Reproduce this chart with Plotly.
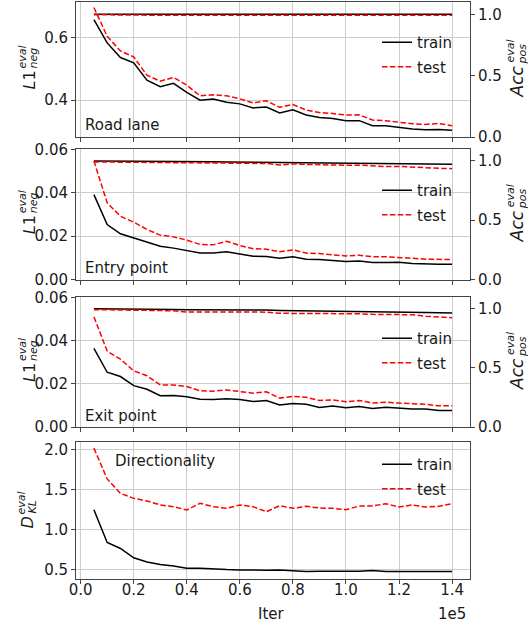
import plotly.graph_objects as go

# ---------------- data ----------------
iters = [5000, 10000, 15000, 20000, 25000, 30000, 35000, 40000, 45000, 50000,
         55000, 60000, 65000, 70000, 75000, 80000, 85000, 90000, 95000, 100000,
         105000, 110000, 115000, 120000, 125000, 130000, 135000, 140000]

road_l1_train = [0.659, 0.584, 0.537, 0.520, 0.464, 0.443, 0.454, 0.425, 0.400, 0.404,
                 0.393, 0.388, 0.375, 0.378, 0.359, 0.369, 0.352, 0.344, 0.341, 0.334,
                 0.334, 0.318, 0.318, 0.312, 0.307, 0.305, 0.306, 0.303]
road_l1_test = [0.698, 0.605, 0.558, 0.539, 0.480, 0.461, 0.473, 0.448, 0.414, 0.417,
                0.414, 0.404, 0.391, 0.398, 0.377, 0.386, 0.368, 0.360, 0.357, 0.352,
                0.353, 0.336, 0.334, 0.328, 0.324, 0.322, 0.325, 0.318]
road_acc_train = [1.000, 1.000, 1.000, 1.000, 1.000, 1.000, 1.000, 1.000, 1.000, 1.000,
                  1.000, 1.000, 1.000, 1.000, 1.000, 1.000, 1.000, 1.000, 1.000, 1.000,
                  1.000, 1.000, 1.000, 1.000, 1.000, 1.000, 1.000, 1.000]
road_acc_test = [0.996, 0.994, 0.993, 0.993, 0.993, 0.993, 0.993, 0.993, 0.993, 0.993,
                 0.993, 0.993, 0.993, 0.993, 0.993, 0.993, 0.993, 0.993, 0.993, 0.993,
                 0.993, 0.993, 0.993, 0.993, 0.993, 0.993, 0.993, 0.993]

entry_l1_train = [0.0392, 0.0254, 0.0211, 0.0191, 0.0172, 0.0154, 0.0145, 0.0134, 0.0122, 0.0122,
                  0.0128, 0.0118, 0.0108, 0.0106, 0.0098, 0.0105, 0.0094, 0.0092, 0.0086, 0.0083,
                  0.0085, 0.0078, 0.0078, 0.0080, 0.0074, 0.0071, 0.0071, 0.0071]
entry_l1_test = [0.0548, 0.0354, 0.0292, 0.0265, 0.0231, 0.0205, 0.0197, 0.0182, 0.0162, 0.0160,
                 0.0177, 0.0157, 0.0142, 0.0140, 0.0128, 0.0137, 0.0122, 0.0120, 0.0114, 0.0109,
                 0.0112, 0.0105, 0.0105, 0.0103, 0.0098, 0.0094, 0.0092, 0.0092]
entry_acc_train = [0.999, 0.999, 0.997, 0.998, 0.996, 0.996, 0.995, 0.994, 0.993, 0.993,
                   0.991, 0.990, 0.990, 0.989, 0.986, 0.988, 0.987, 0.985, 0.984, 0.983,
                   0.983, 0.980, 0.979, 0.978, 0.977, 0.976, 0.977, 0.971]
entry_acc_test = [0.991, 0.989, 0.988, 0.988, 0.986, 0.986, 0.985, 0.984, 0.983, 0.981,
                  0.980, 0.979, 0.980, 0.978, 0.966, 0.974, 0.970, 0.966, 0.963, 0.963,
                  0.964, 0.955, 0.952, 0.953, 0.950, 0.943, 0.937, 0.934]

exit_l1_train = [0.0365, 0.0254, 0.0234, 0.0192, 0.0175, 0.0145, 0.0146, 0.0140, 0.0129, 0.0128,
                 0.0131, 0.0128, 0.0118, 0.0123, 0.0102, 0.0109, 0.0105, 0.0091, 0.0097, 0.0089,
                 0.0095, 0.0086, 0.0092, 0.0088, 0.0083, 0.0083, 0.0077, 0.0077]
exit_l1_test = [0.0511, 0.0352, 0.0315, 0.0260, 0.0238, 0.0195, 0.0195, 0.0188, 0.0168, 0.0166,
                0.0172, 0.0166, 0.0157, 0.0163, 0.0134, 0.0142, 0.0138, 0.0123, 0.0126, 0.0117,
                0.0123, 0.0111, 0.0115, 0.0111, 0.0108, 0.0105, 0.0098, 0.0098]
exit_acc_train = [1.000, 1.000, 1.000, 0.999, 0.999, 0.997, 0.995, 0.993, 0.993, 0.993,
                  0.992, 0.992, 0.991, 0.990, 0.986, 0.985, 0.984, 0.983, 0.982, 0.979,
                  0.980, 0.977, 0.978, 0.974, 0.971, 0.969, 0.967, 0.964]
exit_acc_test = [0.993, 0.990, 0.988, 0.988, 0.987, 0.985, 0.984, 0.973, 0.972, 0.972,
                 0.972, 0.972, 0.973, 0.972, 0.962, 0.962, 0.961, 0.961, 0.961, 0.960,
                 0.958, 0.953, 0.953, 0.951, 0.950, 0.937, 0.932, 0.925]

dir_kl_train = [1.250, 0.839, 0.764, 0.647, 0.596, 0.563, 0.546, 0.517, 0.517, 0.504,
                0.500, 0.496, 0.492, 0.492, 0.496, 0.487, 0.475, 0.479, 0.479, 0.471,
                0.479, 0.487, 0.475, 0.475, 0.475, 0.475, 0.466, 0.475]
dir_kl_test = [2.021, 1.635, 1.455, 1.392, 1.359, 1.309, 1.288, 1.246, 1.330, 1.288,
               1.267, 1.309, 1.288, 1.225, 1.300, 1.267, 1.292, 1.271, 1.267, 1.250,
               1.296, 1.296, 1.325, 1.284, 1.309, 1.284, 1.292, 1.325]

panel_names = ["Road lane", "Entry point", "Exit point", "Directionality"]
x_tick_vals = [0, 20000, 40000, 60000, 80000, 100000, 120000, 140000]
x_tick_text = ["0.0", "0.2", "0.4", "0.6", "0.8", "1.0", "1.2", "1.4"]

# ---------------- geometry ----------------
W, H = 528, 624
ML, MR, MT, MB = 76, 58, 2, 45
PW = W - ML - MR
PH = H - MT - MB


def px_x(px):
    return (px - ML) / PW


def px_y(py):
    return (H - MB - py) / PH


panels_px = [(2, 137), (149, 279.5), (297, 427), (442, 579)]
domains = [[px_y(b), px_y(t)] for (t, b) in panels_px]

FONT = "DejaVu Sans, Verdana, sans-serif"
TXT = "#1a1a1a"
AX = "#444444"
GRID = "#cccccc"
RED_DASH = "5.5px,2.4px"

fig = go.Figure()

series = [
    (road_l1_train, road_l1_test, road_acc_train, road_acc_test),
    (entry_l1_train, entry_l1_test, entry_acc_train, entry_acc_test),
    (exit_l1_train, exit_l1_test, exit_acc_train, exit_acc_test),
]

legend_names = ["legend", "legend2", "legend3", "legend4"]

for i, (tr, te, atr, ate) in enumerate(series):
    xa = "x" if i == 0 else f"x{i + 1}"
    yl = "y" if i == 0 else f"y{2 * i + 1}"
    yr = f"y{2 * i + 2}"
    fig.add_trace(go.Scatter(x=iters, y=atr, xaxis=xa, yaxis=yr, mode="lines",
                             line=dict(color="black", width=1.5), showlegend=False))
    fig.add_trace(go.Scatter(x=iters, y=ate, xaxis=xa, yaxis=yr, mode="lines",
                             line=dict(color="red", width=1.5, dash=RED_DASH), showlegend=False))
    fig.add_trace(go.Scatter(x=iters, y=tr, xaxis=xa, yaxis=yl, mode="lines", name="train",
                             line=dict(color="black", width=1.5), legend=legend_names[i],
                             legendgroup=f"tr{i}"))
    fig.add_trace(go.Scatter(x=iters, y=te, xaxis=xa, yaxis=yl, mode="lines", name="test",
                             line=dict(color="red", width=1.5, dash=RED_DASH), legend=legend_names[i],
                             legendgroup=f"te{i}"))

fig.add_trace(go.Scatter(x=iters, y=dir_kl_train, xaxis="x4", yaxis="y7", mode="lines", name="train",
                         line=dict(color="black", width=1.5), legend="legend4", legendgroup="tr3"))
fig.add_trace(go.Scatter(x=iters, y=dir_kl_test, xaxis="x4", yaxis="y7", mode="lines", name="test",
                         line=dict(color="red", width=1.5, dash=RED_DASH), legend="legend4",
                         legendgroup="te3"))

tickfont = dict(family=FONT, size=15, color=TXT)
common_ax = dict(showline=True, linecolor=AX, linewidth=1, ticks="outside", ticklen=4,
                 tickcolor=AX, tickwidth=1, tickfont=tickfont, zeroline=False, automargin=False)

layout = dict(
    width=W, height=H,
    margin=dict(l=ML, r=MR, t=MT, b=MB, pad=0, autoexpand=False),
    paper_bgcolor="white", plot_bgcolor="white",
    font=dict(family=FONT, size=15, color=TXT),
)

x_range = [-1750, 146750]
x_anchor = ["y", "y3", "y5", "y7"]
for i in range(4):
    key = "xaxis" if i == 0 else f"xaxis{i + 1}"
    layout[key] = dict(common_ax, domain=[0, 1], anchor=x_anchor[i], range=x_range,
                       tickvals=x_tick_vals, ticktext=x_tick_text, showticklabels=(i == 3),
                       showgrid=True, gridcolor=GRID, gridwidth=1, mirror=True)
layout["xaxis4"]["ticklen"] = 4
layout["xaxis4"]["ticklabelstandoff"] = -7

left_ranges = [[0.2815, 0.7155], [0, 0.0603], [0, 0.0603], [0.382, 2.098]]
left_ticks = [[0.4, 0.6], [0, 0.02, 0.04, 0.06], [0, 0.02, 0.04, 0.06], [0.5, 1.0, 1.5, 2.0]]
left_fmt = [".1f", ".2f", ".2f", ".1f"]
left_keys = ["yaxis", "yaxis3", "yaxis5", "yaxis7"]
xs = ["x", "x2", "x3", "x4"]
for i in range(4):
    layout[left_keys[i]] = dict(common_ax, domain=domains[i], anchor=xs[i], range=left_ranges[i],
                                tickvals=left_ticks[i], tickformat=left_fmt[i], side="left",
                                showgrid=True, gridcolor=GRID, gridwidth=1, mirror=True)
for i in range(3):
    layout[f"yaxis{2 * i + 2}"] = dict(common_ax, domain=domains[i], anchor=xs[i],
                                       overlaying=left_keys[i].replace("axis", ""),
                                       range=[0, 1.1], tickvals=[0, 0.5, 1.0], tickformat=".1f",
                                       side="right", showgrid=False)

legend_tops = [26, 174, 322, 448]
for i in range(4):
    layout[legend_names[i]] = dict(x=px_x(377), y=px_y(legend_tops[i]), xanchor="left", yanchor="top",
                                   bgcolor="rgba(0,0,0,0)", borderwidth=0, tracegroupgap=2,
                                   font=dict(family=FONT, size=15, color=TXT))

annotations = []
label_pos = [(83, 125), (83, 268), (83, 416), (113, 461)]
for name, (lx, ly) in zip(panel_names, label_pos):
    annotations.append(dict(text=name, x=px_x(lx), y=px_y(ly), xref="paper", yref="paper",
                            xanchor="left", yanchor="middle", showarrow=False,
                            font=dict(family=FONT, size=15, color=TXT)))


def rot(text, px, py, size, italic=False):
    t = f"<i>{text}</i>" if italic else text
    annotations.append(dict(text=t, x=px_x(px), y=px_y(py), xref="paper", yref="paper",
                            xanchor="center", yanchor="middle", textangle=-90, showarrow=False,
                            font=dict(family=FONT, size=size, color=TXT)))


for i in range(3):
    t, b = panels_px[i]
    c = (t + b) / 2
    rot("<i>L</i>1", 29, c + 11, 16)
    rot("eval", 22, c - 12, 11, True)
    rot("neg", 33, c - 11, 11, True)
    rot("<i>Acc</i>", 517, c + 12, 17)
    rot("eval", 510, c - 18, 11, True)
    rot("pos", 522, c - 15, 11, True)

t, b = panels_px[3]
c = (t + b) / 2
rot("<i>D</i>", 27, c + 12, 16)
rot("eval", 21, c - 7, 11, True)
rot("KL", 32, c - 3, 11, True)

annotations.append(dict(text="Iter", x=px_x(271), y=px_y(613.5), xref="paper", yref="paper",
                        xanchor="center", yanchor="middle", showarrow=False, borderpad=0,
                        font=dict(family=FONT, size=15, color=TXT)))
annotations.append(dict(text="1e5", x=px_x(467), y=px_y(613.5), xref="paper", yref="paper",
                        xanchor="right", yanchor="middle", showarrow=False, borderpad=0,
                        font=dict(family=FONT, size=15, color=TXT)))
layout["annotations"] = annotations

fig.update_layout(layout)
fig.write_html("out.html", config={"displayModeBar": False},
               post_script="document.body.style.margin='0';")
